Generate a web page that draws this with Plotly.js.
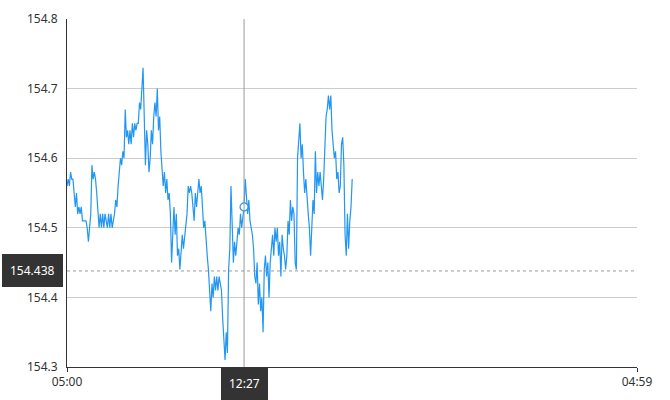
<!DOCTYPE html>
<html>
<head>
<meta charset="utf-8">
<script src="https://cdn.plot.ly/plotly-3.0.1.min.js"></script>
<style>
  html, body { margin: 0; padding: 0; background: #fff; }
  #chart { width: 670px; height: 400px; }
</style>
</head>
<body>
<div id="chart"></div>
<script>
// ---- data ----
const dayStart = '2024-01-01 05:00';
const dayEnd = '2024-01-02 04:59';
const stepMinutes = 3;
const prices = [
  154.56, 154.57, 154.56, 154.58, 154.57, 154.57, 154.55, 154.53, 154.55, 154.52,
  154.53, 154.52, 154.53, 154.51, 154.51, 154.51, 154.51, 154.50, 154.48, 154.50,
  154.52, 154.59, 154.57, 154.58, 154.57, 154.55, 154.53, 154.50, 154.52, 154.50,
  154.52, 154.50, 154.52, 154.51, 154.50, 154.52, 154.50, 154.52, 154.50, 154.51,
  154.52, 154.54, 154.53, 154.56, 154.58, 154.60, 154.59, 154.61, 154.60, 154.67,
  154.63, 154.64, 154.62, 154.64, 154.62, 154.65, 154.63, 154.65, 154.64, 154.65,
  154.65, 154.68, 154.67, 154.71, 154.73, 154.66, 154.59, 154.64, 154.62, 154.58,
  154.60, 154.64, 154.62, 154.66, 154.68, 154.66, 154.70, 154.64, 154.66, 154.61,
  154.58, 154.56, 154.58, 154.55, 154.57, 154.54, 154.55, 154.52, 154.45, 154.50,
  154.53, 154.49, 154.52, 154.46, 154.47, 154.44, 154.46, 154.49, 154.47, 154.49,
  154.50, 154.52, 154.56, 154.55, 154.56, 154.55, 154.53, 154.51, 154.55, 154.53,
  154.55, 154.57, 154.55, 154.56, 154.53, 154.50, 154.51, 154.48, 154.46, 154.44,
  154.40, 154.38, 154.42, 154.40, 154.43, 154.41, 154.43, 154.41, 154.43, 154.42,
  154.41, 154.37, 154.34, 154.31, 154.35, 154.32, 154.44, 154.47, 154.56, 154.50,
  154.45, 154.48, 154.46, 154.48, 154.50, 154.49, 154.52, 154.50, 154.52, 154.53,
  154.57, 154.55, 154.52, 154.54, 154.51, 154.50, 154.49, 154.47, 154.43, 154.42,
  154.45, 154.39, 154.42, 154.38, 154.40, 154.35, 154.44, 154.46, 154.43, 154.45,
  154.40, 154.45, 154.47, 154.49, 154.46, 154.50, 154.48, 154.50, 154.46, 154.48,
  154.43, 154.49, 154.47, 154.46, 154.44, 154.46, 154.51, 154.49, 154.54, 154.51,
  154.53, 154.52, 154.45, 154.44, 154.60, 154.63, 154.65, 154.60, 154.62, 154.58,
  154.55, 154.57, 154.54, 154.52, 154.50, 154.46, 154.50, 154.54, 154.52, 154.61,
  154.55, 154.58, 154.56, 154.58, 154.56, 154.54, 154.57, 154.61, 154.66, 154.67,
  154.69, 154.67, 154.69, 154.64, 154.62, 154.60, 154.61, 154.57, 154.58, 154.55,
  154.56, 154.62, 154.63, 154.59, 154.49, 154.46, 154.52, 154.47, 154.51, 154.53,
  154.57
];
const referencePrice = 154.438;
const crossTime = '12:27';
const yTicks = [154.3, 154.4, 154.5, 154.6, 154.7, 154.8];
const xTickLabels = ['05:00', '04:59'];

// ---- build ----
function pad(n) { return (n < 10 ? '0' : '') + n; }
const startDate = new Date(2024, 0, 1, 5, 0, 0);
function fmt(d) {
  return d.getFullYear() + '-' + pad(d.getMonth() + 1) + '-' + pad(d.getDate()) +
    ' ' + pad(d.getHours()) + ':' + pad(d.getMinutes());
}
const times = prices.map((_, i) => fmt(new Date(startDate.getTime() + i * stepMinutes * 60000)));
const crossIndex = times.findIndex(t => t.slice(11) === crossTime);
const crossX = times[crossIndex];
const crossY = prices[crossIndex];

const lineTrace = {
  x: times, y: prices, type: 'scatter', mode: 'lines',
  line: { color: '#2196f3', width: 1.2 },
  hoverinfo: 'skip'
};
const markerTrace = {
  x: [crossX], y: [crossY], type: 'scatter', mode: 'markers',
  marker: { size: 8, color: '#ffffff', line: { color: '#2196f3', width: 1.2 } },
  hoverinfo: 'skip'
};

const font = { family: 'Noto Sans, Open Sans, sans-serif', size: 12, color: '#333' };

const layout = {
  width: 670, height: 400,
  margin: { l: 67, r: 33, t: 19, b: 33 },
  paper_bgcolor: '#fff', plot_bgcolor: '#fff',
  showlegend: false,
  font: font,
  xaxis: {
    type: 'date',
    range: [dayStart, dayEnd],
    tickmode: 'array',
    tickvals: [dayStart, dayEnd],
    ticktext: xTickLabels,
    showgrid: false, zeroline: false,
    showline: true, linecolor: '#333', linewidth: 1,
    ticks: 'outside', ticklen: 4, tickcolor: '#333',
    tickfont: font,
    fixedrange: true
  },
  yaxis: {
    range: [yTicks[0], yTicks[yTicks.length - 1]],
    tickmode: 'array',
    tickvals: yTicks,
    ticktext: yTicks.map(v => v.toFixed(1)),
    showgrid: true, gridcolor: '#cccccc', gridwidth: 1,
    zeroline: false,
    showline: true, linecolor: '#333', linewidth: 1,
    ticks: '', ticklabelstandoff: 6,
    tickfont: font,
    fixedrange: true
  },
  shapes: [
    { type: 'line', xref: 'paper', x0: 0, x1: 1, yref: 'y', y0: referencePrice, y1: referencePrice,
      line: { color: '#999', width: 1, dash: '3px,3px' } },
    { type: 'line', xref: 'x', x0: crossX, x1: crossX, yref: 'paper', y0: 0, y1: 1,
      line: { color: '#999', width: 1 } }
  ],
  annotations: [
    { xref: 'paper', x: 0, xanchor: 'right', xshift: -4, yref: 'y', y: referencePrice, yanchor: 'middle',
      text: referencePrice.toFixed(3), showarrow: false,
      font: { family: font.family, size: 12, color: '#fff' },
      bgcolor: '#333', bordercolor: '#333', borderpad: 7 },
    { xref: 'x', x: crossX, xanchor: 'center', yref: 'paper', y: 0, yanchor: 'top',
      text: crossTime, showarrow: false,
      font: { family: font.family, size: 12, color: '#fff' },
      bgcolor: '#333', bordercolor: '#333', borderpad: 7 }
  ]
};

Plotly.newPlot('chart', [lineTrace, markerTrace], layout, { displayModeBar: false, staticPlot: true });
</script>
</body>
</html>
